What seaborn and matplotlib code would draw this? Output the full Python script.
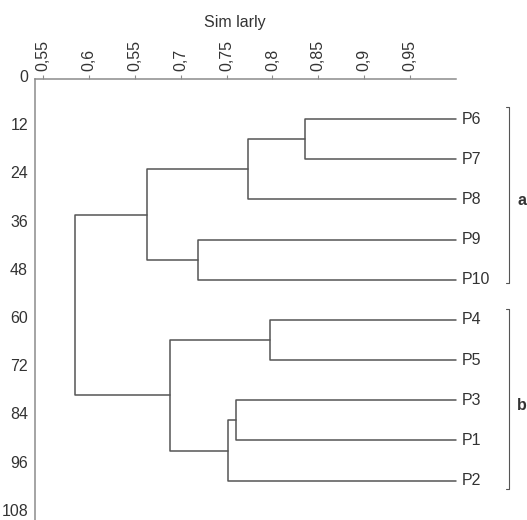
import matplotlib
matplotlib.use("Agg")
import numpy as np
import pandas as pd
import matplotlib.pyplot as plt
import matplotlib.transforms as mtransforms
import seaborn as sns

# leaves from top to bottom
leaves = ["P6", "P7", "P8", "P9", "P10", "P4", "P5", "P3", "P1", "P2"]

# merges, scipy-style: ids < 10 are leaves, id 10+k is the k-th merge
merge_left = [0, 10, 3, 11, 5, 7, 15, 14, 13]
merge_right = [1, 2, 4, 12, 6, 8, 9, 16, 17]
merge_sim = [0.835, 0.773, 0.7185, 0.663, 0.797, 0.760, 0.7515, 0.688, 0.585]

x_ticks = [0.55, 0.60, 0.65, 0.70, 0.75, 0.80, 0.85, 0.90, 0.95]
x_ticklabels = ["0,55", "0,6", "0,55", "0,7", "0,75", "0,8", "0,85", "0,9", "0,95"]
y_ticks = [0, 12, 24, 36, 48, 60, 72, 84, 96, 108]

groups = ["a", "b"]
group_start = [7.0, 57.3]
group_end = [50.7, 102.1]

sns.set_style("white")
plt.rcParams["font.family"] = ["Liberation Sans", "DejaVu Sans"]
text_col = "#333333"
axis_col = "#8c8c8c"
line_col = "#555555"
fs = 11.5

# node coordinates
node_x = [1.0] * len(leaves)
node_y = [10.0 * (i + 1) for i in range(len(leaves))]
rows = []
for k, (l, r, s) in enumerate(zip(merge_left, merge_right, merge_sim)):
    rows.append((k, 0, node_x[l], node_y[l]))
    rows.append((k, 1, s, node_y[l]))
    rows.append((k, 2, s, node_y[r]))
    rows.append((k, 3, node_x[r], node_y[r]))
    node_x.append(s)
    node_y.append((node_y[l] + node_y[r]) / 2)
segs = pd.DataFrame(rows, columns=["node", "order", "x", "y"])

fig = plt.figure(figsize=(5.27, 5.20), dpi=100)
ax = fig.add_axes([35 / 527, 0, 421 / 527, 441 / 520])

sns.lineplot(data=segs, x="x", y="y", units="node", estimator=None, sort=False,
             color=line_col, lw=1.1, ax=ax, clip_on=False)

ax.set_xlim(0.5413, 1.0)
ax.set_ylim(109.8, 0)
ax.set_xlabel("")
ax.set_ylabel("")
ax.xaxis.tick_top()
ax.set_xticks(x_ticks)
ax.set_xticklabels(x_ticklabels, rotation=90)
ax.set_yticks(y_ticks)
ax.tick_params(axis="both", direction="out", length=3, width=0.8, color=axis_col,
               labelcolor=text_col, labelsize=fs, pad=2)
ax.tick_params(axis="x", pad=3)
for side in ["bottom", "right"]:
    ax.spines[side].set_visible(False)
for side in ["top", "left"]:
    ax.spines[side].set_color(axis_col)
    ax.spines[side].set_linewidth(1.1)

# y labels sit a touch above their ticks
shift = mtransforms.ScaledTranslation(0, 3 / 100, fig.dpi_scale_trans)
for lab in ax.get_yticklabels():
    lab.set_transform(lab.get_transform() + shift)

# leaf labels
for name, y in zip(leaves, node_y[:len(leaves)]):
    ax.text(1.006, y, name, ha="left", va="center", fontsize=fs, color=text_col, clip_on=False)

# group brackets
bx = 1.058
for g, s, e in zip(groups, group_start, group_end):
    ax.plot([bx - 0.0035, bx, bx, bx - 0.0035], [s, s, e, e], color=line_col, lw=0.8, clip_on=False)
    ax.text(1.072, (s + e) / 2 + 1.5, g, ha="center", va="center", fontsize=fs,
            fontweight="bold", color=text_col, clip_on=False)

fig.text(235 / 527, 1 - 22 / 520, "Sim larly", ha="center", va="center", fontsize=fs, color=text_col)

fig.savefig("out.png", dpi=100)
